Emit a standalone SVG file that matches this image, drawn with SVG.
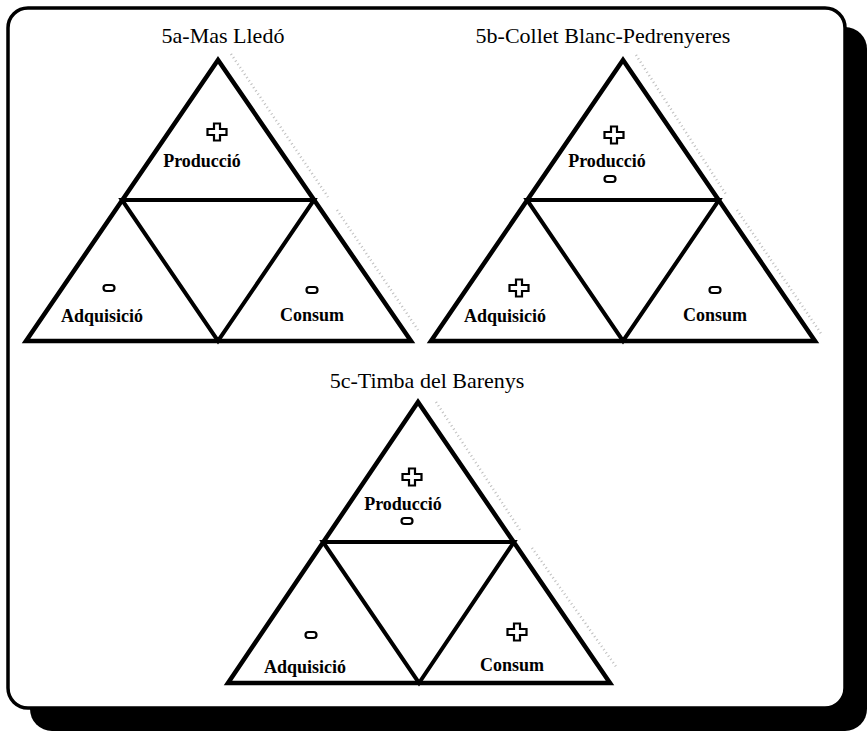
<svg xmlns="http://www.w3.org/2000/svg" xmlns:xlink="http://www.w3.org/1999/xlink" width="867" height="731" viewBox="0 0 867 731">
  <style>
    .tri { fill: none; stroke: #000; stroke-width: 4.5; stroke-linejoin: miter; }
    .mid { fill: none; stroke: #000; stroke-width: 4; stroke-linejoin: miter; }
    .title { font-family: "Liberation Serif", "Times New Roman", serif; font-size: 22px; fill: #000; text-anchor: middle; }
    .lbl { font-family: "Liberation Serif", "Times New Roman", serif; font-size: 18px; font-weight: bold; fill: #000; text-anchor: middle; }
    .sign { fill: #fff; stroke: #000; stroke-width: 2.2; }
    .speck { fill: none; stroke: #888; stroke-width: 2.5; stroke-dasharray: 1 3; opacity: 0.55; }
  </style>
  <defs>
    <path id="plus" d="M-3,-8.5 H3 V-3 H9.5 V3 H3 V8.5 H-3 V3 H-9.5 V-3 H-3 Z"/>
    <rect id="minus" x="-5.5" y="-3" width="11" height="6" rx="3"/>
  </defs>

  <rect width="867" height="731" fill="#fff"/>
  <!-- frame with shadow -->
  <rect x="30" y="27" width="837" height="704" rx="22" fill="#000"/>
  <rect x="8" y="8" width="837" height="700" rx="20" fill="#fff" stroke="#000" stroke-width="3.5"/>

  <g id="connectors">
    <path class="speck" d="M231,54 L328,197 M337,210 L418,330"/>
    <path class="speck" d="M636,55 L727,196 M737,210 L822,335"/>
    <path class="speck" d="M436,402 L520,530 M532,548 L617,668"/>
  </g>

  <g id="panel-5a">
    <text class="title" x="223" y="43">5a-Mas Lledó</text>
    <path class="tri" d="M218,60 L26,341 L411,341 Z"/>
    <path class="mid" d="M122,200 L314,200 L218,341 Z"/>
    <g id="a-produccio">
      <use href="#plus" class="sign" x="217" y="132"/>
      <text class="lbl" x="202" y="167">Producció</text>
    </g>
    <g id="a-adquisicio">
      <use href="#minus" class="sign" x="109" y="288"/>
      <text class="lbl" x="102" y="322">Adquisició</text>
    </g>
    <g id="a-consum">
      <use href="#minus" class="sign" x="312" y="290"/>
      <text class="lbl" x="312" y="321">Consum</text>
    </g>
  </g>

  <g id="panel-5b">
    <text class="title" x="603" y="43">5b-Collet Blanc-Pedrenyeres</text>
    <path class="tri" d="M623,60 L431,341 L815,341 Z"/>
    <path class="mid" d="M527,200 L719,200 L623,341 Z"/>
    <g id="b-produccio">
      <use href="#plus" class="sign" x="614" y="135"/>
      <text class="lbl" x="607" y="167">Producció</text>
      <use href="#minus" class="sign" x="610" y="179"/>
    </g>
    <g id="b-adquisicio">
      <use href="#plus" class="sign" x="519" y="288"/>
      <text class="lbl" x="505" y="322">Adquisició</text>
    </g>
    <g id="b-consum">
      <use href="#minus" class="sign" x="715" y="290"/>
      <text class="lbl" x="715" y="321">Consum</text>
    </g>
  </g>

  <g id="panel-5c">
    <text class="title" x="427" y="388">5c-Timba del Barenys</text>
    <path class="tri" d="M418,402 L228,683 L610,683 Z"/>
    <path class="mid" d="M323,542 L514,542 L419,683 Z"/>
    <g id="c-produccio">
      <use href="#plus" class="sign" x="412" y="477"/>
      <text class="lbl" x="403" y="510">Producció</text>
      <use href="#minus" class="sign" x="407" y="521"/>
    </g>
    <g id="c-adquisicio">
      <use href="#minus" class="sign" x="311" y="635"/>
      <text class="lbl" x="305" y="673">Adquisició</text>
    </g>
    <g id="c-consum">
      <use href="#plus" class="sign" x="517" y="632"/>
      <text class="lbl" x="512" y="671">Consum</text>
    </g>
  </g>
</svg>
